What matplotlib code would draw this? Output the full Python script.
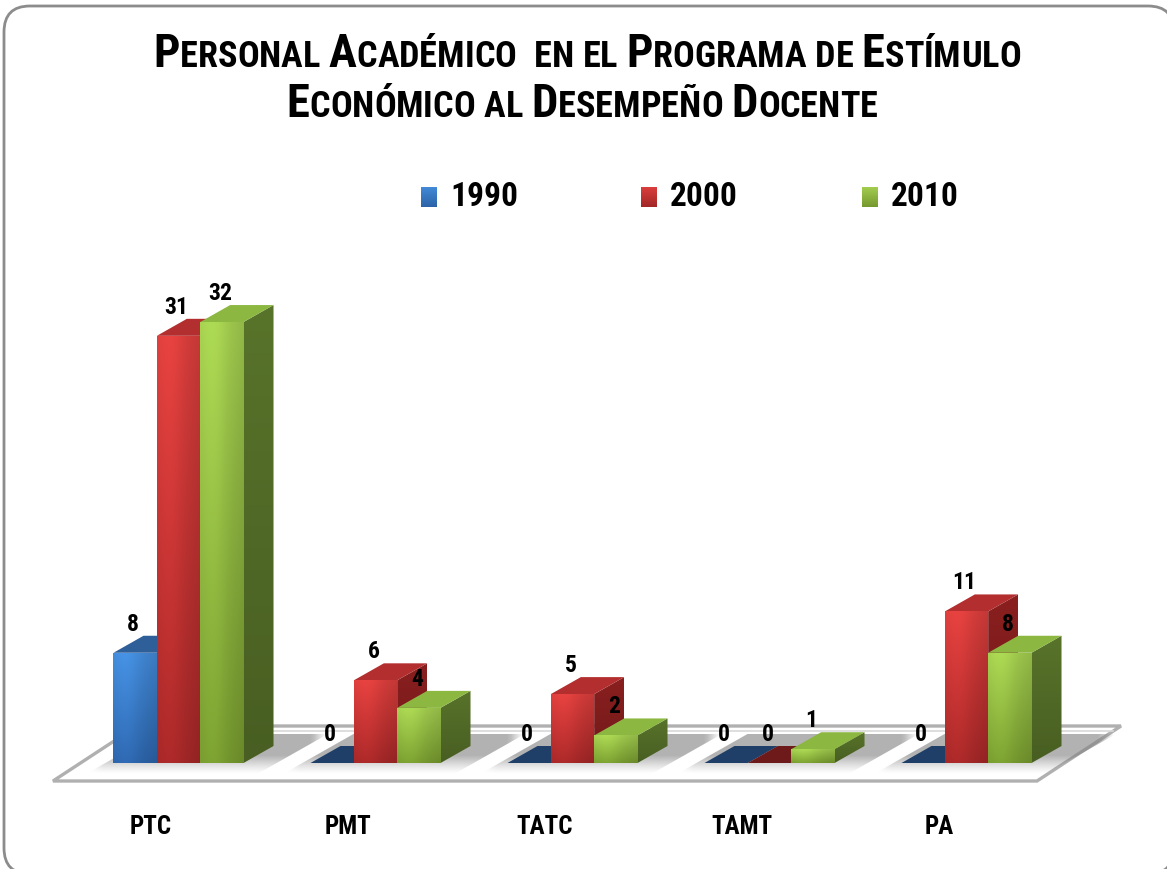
import numpy as np
import matplotlib
matplotlib.use('Agg')
import matplotlib.pyplot as plt
from matplotlib.patches import Polygon, FancyBboxPatch
from matplotlib.colors import to_rgb
from matplotlib import font_manager
from matplotlib.font_manager import FontProperties

# datos
categorias = ['PTC', 'PMT', 'TATC', 'TAMT', 'PA']
anios = ['1990', '2000', '2010']
v1990 = [8, 0, 0, 0, 0]
v2000 = [31, 6, 5, 0, 11]
v2010 = [32, 4, 2, 1, 8]
series = [v1990, v2000, v2010]

titulo = ['Personal Académico  en el Programa de Estímulo',
          'Económico al Desempeño Docente']

# colores (frente arriba, frente abajo, lado, tapa, tapa en cero)
colores = [
    ('#4289d6', '#2c63a8', '#2a5689', '#2f5f99', '#1f3f68'),
    ('#d83e3c', '#a32727', '#8a1f1f', '#b32f2f', '#6e1a1a'),
    ('#a2cc4f', '#76992f', '#58732a', '#8cb842', '#7da23a'),
]

W, H = 1167, 869
fig = plt.figure(figsize=(W / 100, H / 100), dpi=100)
fig.patch.set_facecolor('white')
renderer = fig.canvas.get_renderer()


def existe(fp):
    try:
        return font_manager.findfont(fp, fallback_to_default=False)
    except Exception:
        return None


fuente = 'Liberation Sans' if existe(FontProperties(family='Liberation Sans')) else 'DejaVu Sans'

# buscar la fuente mas angosta disponible para el titulo
candidatas = [('Liberation Sans Narrow', 'normal'), ('DejaVu Sans', 'condensed'),
              ('Roboto Condensed', 'normal'), ('Roboto', 'condensed'),
              ('Open Sans', 'condensed'), ('Noto Sans', 'condensed'),
              (fuente, 'normal')]
mejor, mejor_r = (fuente, 'normal'), 1e9
for fam, est in candidatas:
    fp = FontProperties(family=fam, stretch=est, weight='bold')
    if existe(fp) is None:
        continue
    t = fig.text(0, 0, 'PERSONAL ACADEMICO', fontproperties=fp, fontsize=20)
    r = t.get_window_extent(renderer).width
    t.remove()
    if r < mejor_r - 1:
        mejor, mejor_r = (fam, est), r
fam_tit, est_tit = mejor

# marco redondeado (en pixeles; sale por la derecha y abajo)
fondo = fig.add_axes([0, 0, 1, 1], zorder=-1)
fondo.set_axis_off()
fondo.set_xlim(0, W)
fondo.set_ylim(H, 0)
fondo.add_patch(FancyBboxPatch((4, 6), 1170, 868, boxstyle='round,pad=0,rounding_size=26',
                               facecolor='white', edgecolor='#8c8c8c', linewidth=2))

# escala: 197 px por categoria, 13.78 px por unidad
ux, uy = 197.0, 13.78
x0px, y0px = 178.5, 763.0
ax = fig.add_axes([0, 0, 1, 1])
ax.set_axis_off()
ax.patch.set_alpha(0)
xlim = (-x0px / ux, (W - x0px) / ux)
ylim = (-(H - y0px) / uy, y0px / uy)

ancho = 0.22
dx, dy = 30 / ux, 17 / uy   # profundidad


def px2d(px, py):
    return (px - x0px) / ux, (y0px - py) / uy


def relleno_grad(verts, c_arr, c_abj, z, brillo=False):
    poly = Polygon(verts, closed=True, facecolor='none', edgecolor='none', zorder=z)
    ax.add_patch(poly)
    xs = [v[0] for v in verts]
    ys = [v[1] for v in verts]
    if max(ys) - min(ys) < 1e-6 or max(xs) - min(xs) < 1e-6:
        return
    n = 48
    t = np.linspace(0, 1, n)
    a, b = np.array(to_rgb(c_arr)), np.array(to_rgb(c_abj))
    col = b[None, :] + (a - b)[None, :] * t[:, None]
    img = np.repeat(col[:, None, :], n, axis=1)
    if brillo:
        h = np.linspace(0, 1, n)
        f = 1.0 + 0.08 * np.exp(-((h - 0.3) / 0.3) ** 2) - 0.10 * h ** 2
        img = np.clip(img * f[None, :, None], 0, 1)
    im = ax.imshow(img, extent=[min(xs), max(xs), min(ys), max(ys)], origin='lower',
                   aspect='auto', interpolation='bilinear', zorder=z)
    im.set_clip_path(poly)


# piso
fl_x, fl_y = px2d(53, 781)
fr_x, _ = px2d(1037, 781)
_, bk_y = px2d(0, 726)
fdx = 84 / ux
piso = Polygon([(fl_x, fl_y), (fr_x, fl_y), (fr_x + fdx, bk_y), (fl_x + fdx, bk_y)],
               closed=True, facecolor='white', edgecolor='#b0b0b0', linewidth=2.4, zorder=1)
ax.add_patch(piso)
# grosor del borde trasero
_, bk2 = px2d(0, 731)
k = (bk2 - fl_y) / (bk_y - fl_y)
ax.plot([fl_x + fdx * k, fr_x + fdx * k], [bk2, bk2], color='#d8d8d8', lw=1.2, zorder=1.1)

# sombras sobre el piso
_, sy0 = px2d(0, 774)
_, sy1 = px2d(0, 734)
sh = (sy1 - sy0) * (dx / dy)
n = 60
tv = np.linspace(0, 1, n)
alfa_v = 0.62 * np.clip(tv / 0.45, 0, 1) ** 1.2
th = np.linspace(0, 1, n)
alfa_h = np.clip(np.minimum(th / 0.06, (1 - th) / 0.06), 0, 1)
for i in range(len(categorias)):
    sx0, sx1 = i - 0.47, i + 0.40
    poly = Polygon([(sx0, sy0), (sx1, sy0), (sx1 + sh, sy1), (sx0 + sh, sy1)],
                   closed=True, facecolor='none', edgecolor='none', zorder=1.5)
    ax.add_patch(poly)
    img = np.zeros((n, n, 4))
    img[..., :3] = 0.52
    img[..., 3] = alfa_v[:, None] * alfa_h[None, :]
    im = ax.imshow(img, extent=[sx0, sx1 + sh, sy0, sy1], origin='lower',
                   aspect='auto', interpolation='bilinear', zorder=1.5)
    im.set_clip_path(poly)

# barras 3D
z = 3
for i in range(len(categorias)):
    for j, vals in enumerate(series):
        v = vals[i]
        c_arr, c_abj, c_lado, c_tapa, c_cero = colores[j]
        x1 = i - 0.33 + j * ancho
        x2 = x1 + ancho
        # lado
        relleno_grad([(x2, 0), (x2 + dx, dy), (x2 + dx, v + dy), (x2, v)],
                     c_lado, tuple(np.array(to_rgb(c_lado)) * 0.82), z)
        # tapa
        tapa = c_cero if v == 0 else c_tapa
        ax.add_patch(Polygon([(x1, v), (x2, v), (x2 + dx, v + dy), (x1 + dx, v + dy)],
                             closed=True, facecolor=tapa, edgecolor='none', zorder=z + 0.2))
        # frente
        if v > 0:
            relleno_grad([(x1, 0), (x2, 0), (x2, v), (x1, v)], c_arr, c_abj, z + 0.3, brillo=True)
        # etiqueta
        ax.annotate(str(v), (x1 + ancho / 2 - 0.01, v + dy), xytext=(0, 0),
                    textcoords='offset points', ha='center', va='bottom',
                    fontsize=17, fontweight='bold', family=fam_tit, stretch=est_tit,
                    color='black', zorder=50)
        z += 1

# etiquetas de categoria
for i, c in enumerate(categorias):
    ax.text(i - 0.14, -4.64, c, ha='center', va='center', fontsize=18,
            fontweight='bold', family=fam_tit, stretch=est_tit, color='black', zorder=50)

ax.set_xlim(*xlim)
ax.set_ylim(*ylim)


# titulo en versalitas
def linea_versalitas(texto, y_px, grande, chica, ancho_obj, cx):
    trozos = []
    for ch in texto:
        if ch == ' ':
            trozos.append((' ', chica))
        elif ch.isupper():
            trozos.append((ch, grande))
        else:
            trozos.append((ch.upper(), chica))

    def medir(escala):
        total = 0
        for ch, tam in trozos:
            if ch == ' ':
                total += 0.24 * tam * escala * 100 / 72
                continue
            t = fig.text(0, 0, ch, fontsize=tam * escala, fontweight='bold',
                         family=fam_tit, stretch=est_tit)
            total += t.get_window_extent(renderer).width
            t.remove()
        return total

    esc = 1.0
    if ancho_obj:
        esc = ancho_obj / medir(1.0)
    tot = medir(esc)
    x = cx - tot / 2
    for ch, tam in trozos:
        if ch == ' ':
            x += 0.24 * tam * esc * 100 / 72
            continue
        t = fig.text(x / W, 1 - y_px / H, ch, fontsize=tam * esc, fontweight='bold',
                     family=fam_tit, stretch=est_tit, va='baseline', ha='left')
        x += t.get_window_extent(renderer).width
    return esc


esc = linea_versalitas(titulo[0], 67, 20, 15.5, 868, 587)
linea_versalitas(titulo[1], 117, 20 * esc, 15.5 * esc, None, 582)

# leyenda
ley_x = [421, 641, 862]
for j, a in enumerate(anios):
    c_arr, c_abj = colores[j][0], colores[j][1]
    lx = fig.add_axes([ley_x[j] / W, 1 - 207 / H, 16 / W, 20 / H])
    lx.set_axis_off()
    t = np.linspace(1, 0, 20)
    a_, b_ = np.array(to_rgb(c_arr)), np.array(to_rgb(c_abj))
    col = b_[None, :] + (a_ - b_)[None, :] * t[:, None]
    lx.imshow(np.repeat(col[:, None, :], 16, axis=1), aspect='auto', interpolation='bilinear')
    fig.text((ley_x[j] + 29) / W, 1 - 197 / H, a, fontsize=24, fontweight='bold',
             family=fam_tit, stretch=est_tit, va='center', ha='left')

fig.savefig('out.png', dpi=100, facecolor='white')
